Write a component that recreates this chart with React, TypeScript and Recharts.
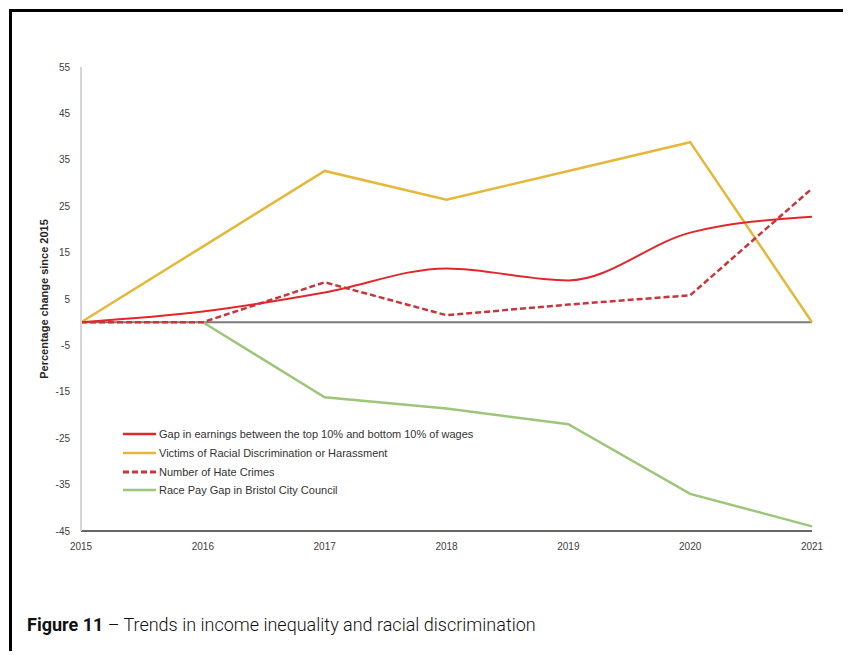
import { LineChart, Line, XAxis, YAxis, ReferenceLine } from 'recharts';

// years on the x axis
const years = ['2015', '2016', '2017', '2018', '2019', '2020', '2021'];

// % change since 2015
const earningsGap = [0, 2.3, 6.4, 11.6, 9.0, 19.3, 22.7];
const racialVictims = [0, 16.3, 32.6, 26.4, 32.6, 38.8, 0];
const hateCrimes = [0, 0, 8.6, 1.5, 3.8, 5.8, 28.8];
const racePayGap = [null, 0, -16.2, -18.6, -22.0, -37.0, -44.0];

const yTicks = [55, 45, 35, 25, 15, 5, -5, -15, -25, -35, -45];

const series = [
  { key: 'earnings', name: 'Gap in earnings between the top 10% and bottom 10% of wages', color: '#e3262c', dash: undefined },
  { key: 'victims', name: 'Victims of Racial Discrimination or Harassment', color: '#e6b83a', dash: undefined },
  { key: 'hate', name: 'Number of Hate Crimes', color: '#c8363c', dash: '6 3' },
  { key: 'payGap', name: 'Race Pay Gap in Bristol City Council', color: '#9dc67a', dash: undefined },
];

const data = years.map((year, i) => ({
  year,
  earnings: earningsGap[i],
  victims: racialVictims[i],
  hate: hateCrimes[i],
  payGap: racePayGap[i],
}));

const FONT = '"Liberation Sans", Arial, sans-serif';

const ChartLegend = () => (
  <div style={{ position: 'absolute', left: 122, top: 425, fontFamily: FONT, fontSize: 11, color: '#333' }}>
    {series.map((s) => (
      <div key={s.key} style={{ display: 'flex', alignItems: 'center', height: 18.7, whiteSpace: 'nowrap' }}>
        <svg width={35} height={6} style={{ marginRight: 2 }}>
          <line x1={1} y1={3} x2={34} y2={3} stroke={s.color} strokeWidth={s.dash ? 3 : 2.5} strokeDasharray={s.dash} />
        </svg>
        <span>{s.name}</span>
      </div>
    ))}
  </div>
);

export default function App() {
  return (
    <div style={{ position: 'relative', width: 851, height: 659, overflow: 'hidden', background: '#fff', margin: -8 }}>
      <div
        style={{
          position: 'absolute',
          left: 9,
          top: 9,
          width: 950,
          height: 800,
          border: '3px solid #000',
          boxSizing: 'border-box',
        }}
      />
      <div style={{ position: 'absolute', left: 0, top: 0 }}>
        <LineChart width={851} height={659} data={data} margin={{ top: 67, right: 39, bottom: 98, left: 0 }}>
          <XAxis
            dataKey="year"
            scale="point"
            height={30}
            padding={{ left: 0, right: 0 }}
            tickLine={false}
            tickMargin={6}
            axisLine={{ stroke: '#333', strokeWidth: 1.5 }}
            tick={{ fill: '#404040', fontSize: 10, fontFamily: FONT }}
            interval={0}
          />
          <YAxis
            width={81}
            type="number"
            domain={[-45, 55]}
            ticks={yTicks}
            interval={0}
            tickLine={false}
            tickMargin={5}
            axisLine={{ stroke: '#d6d6d6', strokeWidth: 2 }}
            tick={{ fill: '#404040', fontSize: 10, fontFamily: FONT }}
            label={{
              value: 'Percentage change since 2015',
              angle: -90,
              position: 'center',
              dx: 4,
              style: { fontFamily: FONT, fontSize: 11, fontWeight: 700, fill: '#262626' },
            }}
          />
          <ReferenceLine y={0} stroke="#7a7a7a" strokeWidth={2} />
          <Line dataKey="victims" name={series[1].name} stroke={series[1].color} strokeWidth={2.5} dot={false} isAnimationActive={false} />
          <Line dataKey="payGap" name={series[3].name} stroke={series[3].color} strokeWidth={2.5} dot={false} isAnimationActive={false} />
          <Line dataKey="hate" name={series[2].name} stroke={series[2].color} strokeWidth={2.5} strokeDasharray="6 3" dot={false} isAnimationActive={false} />
          <Line type="monotone" dataKey="earnings" name={series[0].name} stroke={series[0].color} strokeWidth={2} dot={false} isAnimationActive={false} />
        </LineChart>
      </div>
      <ChartLegend />
      <div
        style={{
          position: 'absolute',
          left: 27,
          top: 614,
          fontFamily: 'Roboto, sans-serif',
          fontSize: 18,
          fontWeight: 300,
          color: '#111',
          whiteSpace: 'nowrap',
        }}
      >
        <span style={{ fontWeight: 700 }}>Figure 11</span> – Trends in income inequality and racial discrimination
      </div>
    </div>
  );
}
